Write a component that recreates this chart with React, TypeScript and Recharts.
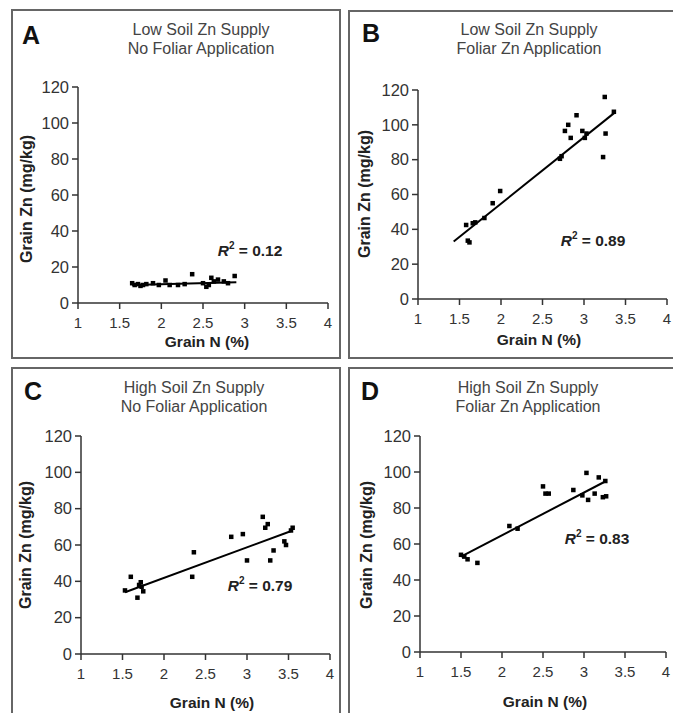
import React from 'react';
import { ScatterChart, Scatter, XAxis, YAxis, ReferenceLine } from 'recharts';

const xTicks = [1, 1.5, 2, 2.5, 3, 3.5, 4];
const yTicks = [0, 20, 40, 60, 80, 100, 120];

// grain N (%) vs grain Zn (mg/kg)
const lowSoilNoFoliar = [
  [1.65, 11], [1.68, 10], [1.72, 10.5], [1.75, 9.5], [1.78, 10], [1.82, 10.5],
  [1.9, 11], [1.97, 10], [2.05, 12.5], [2.1, 10], [2.2, 10], [2.28, 10.5],
  [2.37, 16], [2.5, 11], [2.54, 9], [2.57, 10], [2.6, 14], [2.63, 12],
  [2.68, 13], [2.75, 12], [2.8, 11], [2.88, 15],
];
const lowSoilFoliar = [
  [1.58, 42.5], [1.6, 33.5], [1.62, 32.5], [1.66, 43.5], [1.69, 44], [1.8, 46.5],
  [1.9, 55], [1.99, 62], [2.71, 80.5], [2.73, 82], [2.77, 96.5], [2.81, 100],
  [2.84, 92.5], [2.91, 105.5], [2.98, 96.5], [3.01, 92.5], [3.03, 95],
  [3.23, 81.5], [3.25, 116], [3.26, 95], [3.36, 107.5],
];
const highSoilNoFoliar = [
  [1.53, 35], [1.6, 42.5], [1.68, 31], [1.7, 38], [1.72, 39.5], [1.73, 37],
  [1.75, 34.5], [2.34, 42.5], [2.36, 56], [2.81, 64.5], [2.95, 66], [3.0, 51.5],
  [3.19, 75.5], [3.22, 69.5], [3.25, 71.5], [3.28, 51.5], [3.32, 57],
  [3.45, 62], [3.47, 60], [3.53, 68], [3.55, 69.5],
];
const highSoilFoliar = [
  [1.5, 54], [1.54, 53], [1.58, 51.5], [1.7, 49.5], [2.09, 70], [2.19, 68.5],
  [2.5, 92], [2.53, 88], [2.57, 88], [2.87, 90], [2.98, 87], [3.03, 99.5],
  [3.05, 84.5], [3.13, 88], [3.18, 97], [3.23, 86], [3.27, 86.5], [3.26, 95],
];

// fitted lines, endpoints
const trendA = [[1.65, 10], [2.9, 11.5]];
const trendB = [[1.43, 33], [3.37, 107]];
const trendC = [[1.53, 34], [3.55, 68]];
const trendD = [[1.5, 53], [3.27, 95]];

const letters = ['A', 'B', 'C', 'D'];
const titles = [
  ['Low Soil Zn Supply', 'No Foliar Application'],
  ['Low Soil Zn Supply', 'Foliar Zn Application'],
  ['High Soil Zn Supply', 'No Foliar Application'],
  ['High Soil Zn Supply', 'Foliar Zn Application'],
];
const rSquared = ['0.12', '0.89', '0.79', '0.83'];

const FONT = '"Liberation Sans", Arial, sans-serif';

type Layout = {
  box: { left: number; top: number; width: number; height: number };
  plot: { left: number; top: number; right: number; bottom: number };
  letter: { x: number; y: number };
  title: { x: number; y: number };
  yTitle: { x: number; y: number };
  xTitle: { x: number; y: number };
  r2: { x: number; y: number };
};

const layouts: Layout[] = [
  {
    box: { left: 11, top: 9, width: 330, height: 350 },
    plot: { left: 78, top: 87, right: 328, bottom: 303 },
    letter: { x: 22, y: 22 },
    title: { x: 201, y: 39 },
    yTitle: { x: 27, y: 199 },
    xTitle: { x: 207, y: 342 },
    r2: { x: 250, y: 250 },
  },
  {
    box: { left: 348, top: 10, width: 340, height: 349 },
    plot: { left: 418, top: 90, right: 667, bottom: 299 },
    letter: { x: 362, y: 20 },
    title: { x: 529, y: 39 },
    yTitle: { x: 365, y: 194 },
    xTitle: { x: 539, y: 340 },
    r2: { x: 593, y: 240 },
  },
  {
    box: { left: 11, top: 367, width: 330, height: 360 },
    plot: { left: 81, top: 436, right: 330, bottom: 654 },
    letter: { x: 24, y: 378 },
    title: { x: 194, y: 397 },
    yTitle: { x: 26, y: 545 },
    xTitle: { x: 212, y: 703 },
    r2: { x: 260, y: 585 },
  },
  {
    box: { left: 348, top: 367, width: 340, height: 360 },
    plot: { left: 420, top: 436, right: 666, bottom: 652 },
    letter: { x: 361, y: 378 },
    title: { x: 528, y: 397 },
    yTitle: { x: 367, y: 545 },
    xTitle: { x: 545, y: 702 },
    r2: { x: 597, y: 538 },
  },
];

const seriesList = [lowSoilNoFoliar, lowSoilFoliar, highSoilNoFoliar, highSoilFoliar];
const trendList = [trendA, trendB, trendC, trendD];

const Square = (p: any) => (
  <rect x={p.cx - 2.25} y={p.cy - 2.25} width={4.5} height={4.5} fill="#000" />
);

const XTick = (p: any) => (
  <text x={p.x} y={p.y} dy="0.71em" textAnchor="middle" fontSize={15} fill="#333" fontFamily={FONT}>
    {p.payload.value}
  </text>
);

const YTick = (p: any) => (
  <text x={p.x} y={p.y} dy="0.35em" textAnchor="end" fontSize={16.5} fill="#333" fontFamily={FONT}>
    {p.payload.value}
  </text>
);

function Panel({ i }: { i: number }) {
  const L = layouts[i];
  const points = seriesList[i].map(([x, y]) => ({ x, y }));
  const t = trendList[i];
  const yAxisW = 60;
  const chartLeft = L.plot.left - yAxisW;
  const chartTop = L.plot.top - 10;
  const width = L.plot.right - L.plot.left + yAxisW + 12;
  const height = L.plot.bottom - L.plot.top + 10 + 34;
  const axisStroke = { stroke: '#333', strokeWidth: 1.5 };

  return (
    <>
      <div
        style={{
          position: 'absolute',
          left: L.box.left,
          top: L.box.top,
          width: L.box.width,
          height: L.box.height,
          border: '2px solid #666',
          boxSizing: 'border-box',
        }}
      />
      <div style={{ position: 'absolute', left: L.letter.x, top: L.letter.y, fontSize: 25, fontWeight: 'bold', lineHeight: '26px', color: '#111' }}>
        {letters[i]}
      </div>
      <div
        style={{
          position: 'absolute',
          left: L.title.x,
          top: L.title.y,
          transform: 'translate(-50%, -50%)',
          textAlign: 'center',
          fontSize: 16,
          lineHeight: '19px',
          color: '#444',
          whiteSpace: 'nowrap',
        }}
      >
        {titles[i][0]}
        <br />
        {titles[i][1]}
      </div>
      <div
        style={{
          position: 'absolute',
          left: L.yTitle.x,
          top: L.yTitle.y,
          transform: 'translate(-50%, -50%) rotate(-90deg)',
          fontSize: 16,
          fontWeight: 'bold',
          color: '#222',
          whiteSpace: 'nowrap',
        }}
      >
        Grain Zn (mg/kg)
      </div>
      <div
        style={{
          position: 'absolute',
          left: L.xTitle.x,
          top: L.xTitle.y,
          transform: 'translate(-50%, -50%)',
          fontSize: 15.5,
          fontWeight: 'bold',
          color: '#222',
          whiteSpace: 'nowrap',
        }}
      >
        Grain N (%)
      </div>
      <div
        style={{
          position: 'absolute',
          left: L.r2.x,
          top: L.r2.y,
          transform: 'translate(-50%, -50%)',
          fontSize: 15.5,
          fontWeight: 'bold',
          color: '#222',
          whiteSpace: 'nowrap',
        }}
      >
        <i>R</i>
        <sup style={{ fontSize: 10 }}>2</sup> = {rSquared[i]}
      </div>
      <div style={{ position: 'absolute', left: chartLeft, top: chartTop }}>
        <ScatterChart width={width} height={height} margin={{ top: 10, right: 12, bottom: 0, left: 0 }}>
          <XAxis
            type="number"
            dataKey="x"
            domain={[1, 4]}
            ticks={xTicks}
            height={34}
            tickSize={6}
            tickMargin={8}
            tick={<XTick />}
            axisLine={axisStroke}
            tickLine={axisStroke}
            interval={0}
            minTickGap={0}
          />
          <YAxis
            type="number"
            dataKey="y"
            domain={[0, 120]}
            ticks={yTicks}
            width={yAxisW}
            tickSize={6}
            tickMargin={3}
            tick={<YTick />}
            axisLine={axisStroke}
            tickLine={axisStroke}
            interval={0}
            minTickGap={0}
          />
          <ReferenceLine
            segment={[
              { x: t[0][0], y: t[0][1] },
              { x: t[1][0], y: t[1][1] },
            ]}
            stroke="#000"
            strokeWidth={2}
            ifOverflow="visible"
          />
          <Scatter data={points} shape={Square} isAnimationActive={false} />
        </ScatterChart>
      </div>
    </>
  );
}

export default function App() {
  return (
    <div
      style={{
        position: 'fixed',
        left: 0,
        top: 0,
        width: 673,
        height: 713,
        overflow: 'hidden',
        background: '#fff',
        fontFamily: FONT,
      }}
    >
      {[0, 1, 2, 3].map((i) => (
        <Panel key={i} i={i} />
      ))}
    </div>
  );
}
